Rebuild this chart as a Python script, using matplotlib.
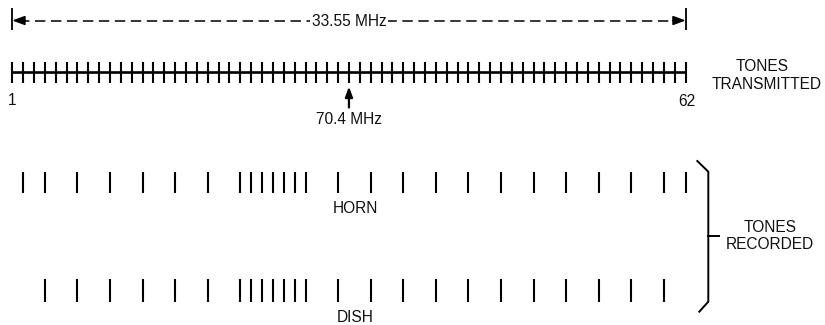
import matplotlib
matplotlib.use("Agg")
import matplotlib.pyplot as plt
import matplotlib.transforms as mtransforms

# ---------------- data ----------------
TONE_SLOTS = list(range(63))            # transmitted comb tick positions
END_LABELS = ["1", "62"]                # labels at first / last transmitted tone
SPAN_LABEL = "33.55 MHz"
CENTER_LABEL = "70.4 MHz"
CENTER_SLOT = 31
HORN_SLOTS = [1, 3, 6, 9, 12, 15, 18, 21, 22, 23, 24, 25, 26, 27,
              30, 33, 36, 39, 42, 45, 48, 51, 54, 57, 60, 62]
DISH_SLOTS = [3, 6, 9, 12, 15, 18, 21, 22, 23, 24, 25, 26, 27,
              30, 33, 36, 39, 42, 45, 48, 51, 54, 57, 60]
ROW_LABELS = ["HORN", "DISH"]
TX_LABEL = ["TONES", "TRANSMITTED"]
RX_LABEL = ["TONES", "RECORDED"]

# ---------------- layout ----------------
W, H = 825, 325
plt.rcParams['font.family'] = ['Liberation Sans', 'DejaVu Sans']
plt.rcParams['font.size'] = 11.2
plt.rcParams['lines.scale_dashes'] = False

fig = plt.figure(figsize=(W / 100, H / 100), dpi=100)
ax = fig.add_axes([0, 0, 1, 1])
ax.axis('off')
x0px, step = 12.3, 10.86
ax.set_xlim(-x0px / step, (W - x0px) / step)
ax.set_ylim(H, 0)

# pixel-coordinate transform for annotations
PX = mtransforms.Affine2D().scale(1 / W, -1 / H).translate(0, 1) + fig.transFigure

K = 'black'
TXT = dict(ha='center', va='baseline', color='#111111')
first, last = TONE_SLOTS[0], TONE_SLOTS[-1]

# ---- dimension line with arrows ----
y_dim = 20.5
ax.plot([first + 0.6, last - 0.6], [y_dim, y_dim], color=K, lw=1.1,
        linestyle=(0, (7.5, 4.0)))
for tip, tail in [(first, first + 1.2), (last, last - 1.2)]:
    ax.annotate('', xy=(tip, y_dim), xytext=(tail, y_dim),
                arrowprops=dict(arrowstyle='-|>,head_length=0.75,head_width=0.28',
                                lw=1.1, color=K, shrinkA=0, shrinkB=0,
                                mutation_scale=10))
ax.vlines([first, last], 8, 29.5, color=K, lw=1.3)
ax.text((first + last) / 2, 26.5, SPAN_LABEL,
        bbox=dict(fc='white', ec='none', pad=1.0), **TXT)

# ---- transmitted comb ----
ax.plot([first, last], [72, 72], color=K, lw=1.9, solid_capstyle='butt')
ax.vlines(TONE_SLOTS, 61.5, 83, color=K, lw=1.5)
ax.text(first, 105, END_LABELS[0], **TXT)
ax.text(last + 0.15, 106, END_LABELS[1], **TXT)

# center frequency arrow
ax.annotate('', xy=(CENTER_SLOT, 86.5), xytext=(CENTER_SLOT, 107.5),
            arrowprops=dict(arrowstyle='-|>,head_length=0.6,head_width=0.22',
                            lw=1.6, color=K, shrinkA=0, shrinkB=0,
                            mutation_scale=10))
ax.text(CENTER_SLOT, 123.5, CENTER_LABEL, **TXT)

# side label for transmitted
ax.text(762.5, 70.7, TX_LABEL[0], transform=PX, **TXT)
ax.text(766.5, 89, TX_LABEL[1], transform=PX, **TXT)

# ---- recorded rows ----
ax.vlines(HORN_SLOTS, 171.5, 192.5, color=K, lw=1.5)
ax.vlines(DISH_SLOTS, 279, 302, color=K, lw=1.5)
ax.text(355, 213.3, ROW_LABELS[0], transform=PX, **TXT)
ax.text(355, 322.0, ROW_LABELS[1], transform=PX, **TXT)

# bracket
ax.plot([697.3, 708.3, 708.3, 699.3], [161, 171.7, 301.7, 311.7],
        color=K, lw=1.4, transform=PX, solid_joinstyle='round')
ax.plot([708.3, 719.3], [236, 236], color=K, lw=1.4, transform=PX)
ax.text(770, 231.7, RX_LABEL[0], transform=PX, **TXT)
ax.text(770, 249, RX_LABEL[1], transform=PX, **TXT)

fig.savefig('out.png', dpi=100, facecolor='white')
